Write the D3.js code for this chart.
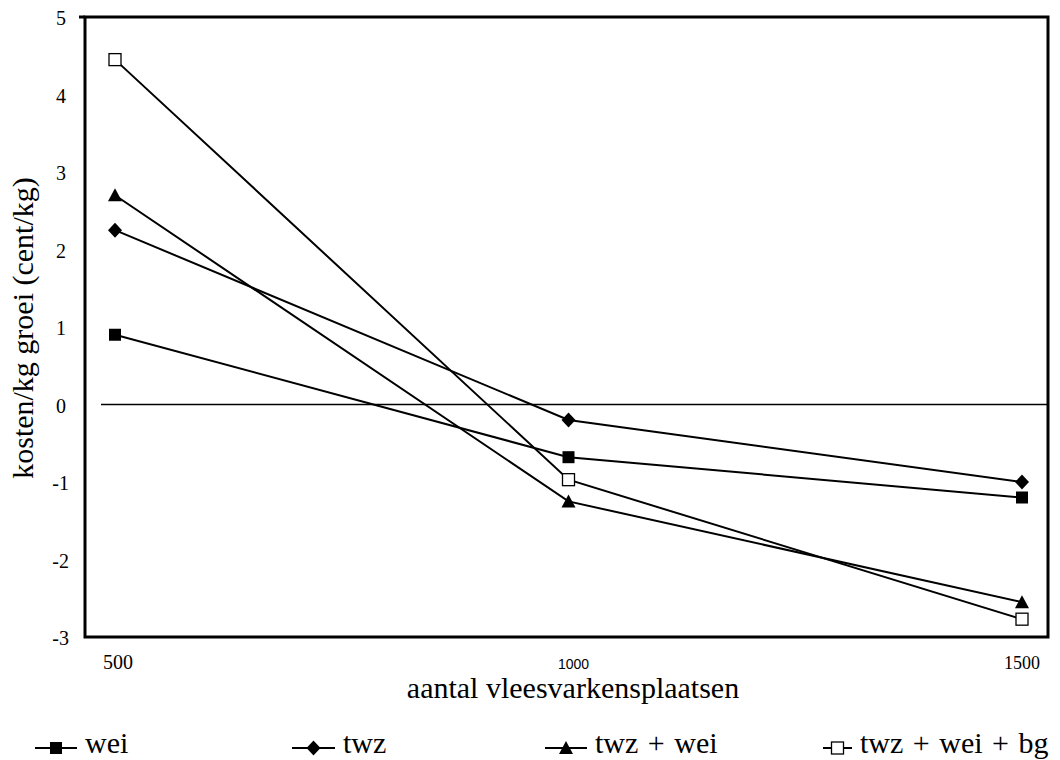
<!DOCTYPE html>
<html>
<head>
<meta charset="utf-8">
<script src="https://cdn.jsdelivr.net/npm/d3@7"></script>
<style>
  body { margin: 0; background: #fff; }
  svg text { font-family: "Liberation Serif", "Times New Roman", serif; fill: #000; }
</style>
</head>
<body>
<div id="chart"></div>
<script>
// data
var plaatsen = [500, 1000, 1500];
var wei = [0.9, -0.68, -1.2];
var twz = [2.25, -0.2, -1.0];
var twzWei = [2.7, -1.25, -2.55];
var twzWeiBg = [4.45, -0.97, -2.77];
var yTicks = [5, 4, 3, 2, 1, 0, -1, -2, -3];
var seriesNames = ["wei", "twz", "twz + wei", "twz + wei + bg"];
var seriesSymbols = ["square", "diamond", "triangle", "open"];
var seriesValues = [wei, twz, twzWei, twzWeiBg];

var width = 1060, height = 760;
var svg = d3.select("#chart").append("svg")
    .attr("width", width)
    .attr("height", height);

var x = d3.scaleLinear().domain([500, 1500]).range([115, 1022]);
var y = d3.scaleLinear().domain([-3, 5]).range([637, 17]);

// frame
svg.append("rect")
    .attr("x", 85).attr("y", 17)
    .attr("width", 1048 - 85).attr("height", 637 - 17)
    .attr("fill", "none").attr("stroke", "#000").attr("stroke-width", 3);
svg.append("line")
    .attr("x1", 79).attr("x2", 85).attr("y1", 17).attr("y2", 17)
    .attr("stroke", "#000").attr("stroke-width", 3);

// zero line
svg.append("line")
    .attr("x1", 101).attr("x2", 1048)
    .attr("y1", y(0)).attr("y2", y(0))
    .attr("stroke", "#000").attr("stroke-width", 1.6);

// y tick labels
svg.selectAll(".ytick")
    .data(yTicks)
    .enter().append("text")
    .attr("class", "ytick")
    .attr("x", function(d) { return d < 0 ? 69 : 66; })
    .attr("y", function(d) { return y(d) + 8; })
    .attr("text-anchor", "end")
    .attr("font-size", 20)
    .text(function(d) { return d; });

// x tick labels (the middle one is printed in a small sans font)
svg.selectAll(".xtick")
    .data(plaatsen)
    .enter().append("text")
    .attr("class", "xtick")
    .attr("x", function(d, i) { return x(d) + [3, 5, 0][i]; })
    .attr("y", 669)
    .attr("text-anchor", "middle")
    .attr("font-size", function(d, i) { return [20, 14, 18][i]; })
    .style("font-family", function(d, i) { return i == 1 ? "'Liberation Sans', Arial, sans-serif" : null; })
    .text(function(d) { return d; });

// axis titles
svg.append("text")
    .attr("x", 573).attr("y", 698)
    .attr("text-anchor", "middle")
    .attr("font-size", 30)
    .text("aantal vleesvarkensplaatsen");
svg.append("text")
    .attr("transform", "translate(33,328) rotate(-90)")
    .attr("text-anchor", "middle")
    .attr("font-size", 30)
    .text("kosten/kg groei (cent/kg)");

function drawSymbol(g, type, cx, cy) {
    if (type == "square") {
        g.append("rect").attr("x", cx - 6).attr("y", cy - 6)
            .attr("width", 12).attr("height", 12).attr("fill", "#000");
    } else if (type == "diamond") {
        g.append("path")
            .attr("d", "M" + cx + "," + (cy - 7.5) + "L" + (cx + 7) + "," + cy + "L" + cx + "," + (cy + 7.5) + "L" + (cx - 7) + "," + cy + "Z")
            .attr("fill", "#000");
    } else if (type == "triangle") {
        g.append("path")
            .attr("d", "M" + cx + "," + (cy - 7) + "L" + (cx + 7) + "," + (cy + 6) + "L" + (cx - 7) + "," + (cy + 6) + "Z")
            .attr("fill", "#000");
    } else {
        g.append("rect").attr("x", cx - 6).attr("y", cy - 6)
            .attr("width", 12).attr("height", 12)
            .attr("fill", "#fff").attr("stroke", "#000").attr("stroke-width", 1.3);
    }
}

var line = d3.line()
    .x(function(d) { return x(d[0]); })
    .y(function(d) { return y(d[1]); });

seriesValues.forEach(function(vals, i) {
    var pts = plaatsen.map(function(p, j) { return [p, vals[j]]; });
    var g = svg.append("g");
    g.append("path")
        .attr("d", line(pts))
        .attr("fill", "none")
        .attr("stroke", "#000")
        .attr("stroke-width", 2);
    pts.forEach(function(p) {
        drawSymbol(g, seriesSymbols[i], x(p[0]), y(p[1]));
    });
});

// legend
var legendX = [35, 292, 545, 823];
var legendLen = [42, 43, 42, 29];
seriesNames.forEach(function(name, i) {
    var g = svg.append("g");
    var lx = legendX[i], ly = 748;
    g.append("line")
        .attr("x1", lx).attr("x2", lx + legendLen[i])
        .attr("y1", ly).attr("y2", ly)
        .attr("stroke", "#000").attr("stroke-width", 2);
    drawSymbol(g, seriesSymbols[i], lx + legendLen[i] / 2, ly);
    g.append("text")
        .attr("x", lx + legendLen[i] + 8).attr("y", 753)
        .attr("font-size", 30)
        .attr("word-spacing", 2)
        .text(name);
});
</script>
</body>
</html>
